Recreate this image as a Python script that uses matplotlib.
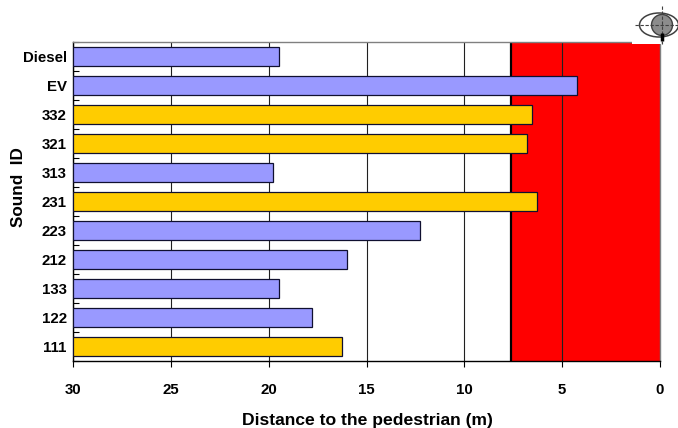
import matplotlib
matplotlib.use("Agg")
import matplotlib.pyplot as plt
from matplotlib.patches import Ellipse, Circle, Rectangle

sound_ids = ["111", "122", "133", "212", "223", "231", "313", "321", "332", "EV", "Diesel"]
distances = [16.25, 17.8, 19.47, 16.0, 12.26, 6.3, 19.8, 6.8, 6.54, 4.24, 19.47]
bar_colors = ["#FFCC00", "#9999FF", "#9999FF", "#9999FF", "#9999FF", "#FFCC00",
              "#9999FF", "#FFCC00", "#FFCC00", "#9999FF", "#9999FF"]
danger_zone = 7.6
axis_start = 30
x_ticks = [30, 25, 20, 15, 10, 5, 0]

plt.rcParams["font.family"] = ["Liberation Sans", "DejaVu Sans"]
W, H = 678, 428
fig = plt.figure(figsize=(W / 100, H / 100), dpi=100)
ax = fig.add_axes([73 / W, 1 - 361 / H, 587 / W, 319 / H])

ax.set_xlim(axis_start, 0)
ax.set_ylim(-0.5, len(sound_ids) - 0.5)

ax.axvspan(danger_zone, 0, facecolor="#FF0000", edgecolor="none", zorder=1)
ax.axvline(danger_zone, color="black", lw=1.6, zorder=1.2)
ax.set_xticks(x_ticks)
ax.grid(axis="x", color="#202020", lw=0.8)
ax.set_axisbelow("line")

ax.barh(range(len(sound_ids)), [d - axis_start for d in distances], left=axis_start,
        height=0.65, color=bar_colors, edgecolor="#101030", linewidth=0.9, zorder=3)

ax.set_yticks([i - 0.5 for i in range(len(sound_ids) + 1)])
ax.set_yticklabels([])
ax.set_yticks(range(len(sound_ids)), labels=sound_ids, minor=True)
ax.tick_params(axis="y", which="major", direction="in", length=4, width=0.8, color="black")
ax.tick_params(axis="y", which="minor", length=0, pad=4.5, labelsize=10.8)
for t in ax.get_yticklabels(minor=True):
    t.set_fontweight("bold")
ax.tick_params(axis="x", direction="out", length=4, width=0.8, pad=12, labelsize=10.8)
for t in ax.get_xticklabels():
    t.set_fontweight("bold")

for s in ["top", "right"]:
    ax.spines[s].set_color("#808080")
    ax.spines[s].set_linewidth(1.0)
for s in ["left", "bottom"]:
    ax.spines[s].set_color("black")
    ax.spines[s].set_linewidth(1.0)

fig.text(367 / W, 1 - 420 / H, "Distance to the pedestrian (m)", fontweight="bold",
         fontsize=12.6, ha="center", va="center")
fig.text(18.5 / W, 1 - 187 / H, "Sound  ID", fontweight="bold", fontsize=12.3,
         rotation=90, ha="center", va="center")

# eye icon, in pixel coordinates of the figure
ov = fig.add_axes([0, 0, 1, 1], zorder=10)
ov.set_xlim(0, W)
ov.set_ylim(H, 0)
ov.axis("off")
ov.add_patch(Rectangle((632, 30), 28.5, 13.5, fc="white", ec="none"))
ov.add_patch(Ellipse((659, 25), 39, 24, fc="white", ec="#404040", lw=1.1))
ov.add_patch(Circle((662, 25), 10.5, fc="#8C8C8C", ec="#404040", lw=1.0))
ov.plot([635, 678], [25, 25], color="#404040", lw=0.8, ls=(0, (3, 1.5)))
ov.plot([662, 662], [6, 44], color="#404040", lw=0.8, ls=(0, (3, 1.5)))
ov.plot([662, 662], [33, 41], color="black", lw=2.5, solid_capstyle="butt")

fig.savefig("out.png", dpi=100)
